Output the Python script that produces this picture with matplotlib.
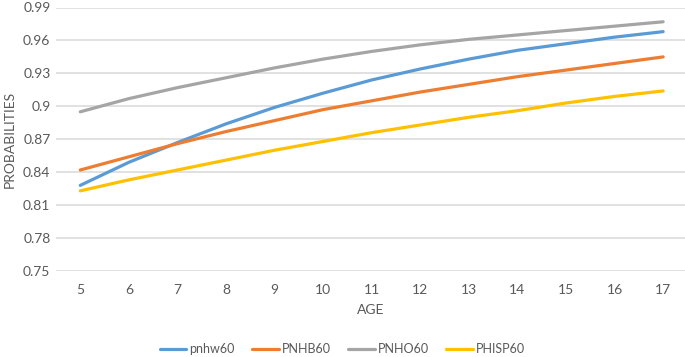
import matplotlib
matplotlib.use("Agg")
import matplotlib.pyplot as plt

# ages on the category axis
ages = [5, 6, 7, 8, 9, 10, 11, 12, 13, 14, 15, 16, 17]

# probabilities
pnhw60 = [0.828, 0.849, 0.867, 0.884, 0.899, 0.912, 0.924, 0.934, 0.943, 0.951, 0.957, 0.963, 0.968]
pnhb60 = [0.842, 0.854, 0.866, 0.877, 0.887, 0.897, 0.905, 0.913, 0.920, 0.927, 0.933, 0.939, 0.945]
pnho60 = [0.895, 0.907, 0.917, 0.926, 0.935, 0.943, 0.950, 0.956, 0.961, 0.965, 0.969, 0.973, 0.977]
phisp60 = [0.823, 0.833, 0.842, 0.851, 0.860, 0.868, 0.876, 0.883, 0.890, 0.896, 0.903, 0.909, 0.914]

series_names = ["pnhw60", "PNHB60", "PNHO60", "PHISP60"]
yticks = [0.75, 0.78, 0.81, 0.84, 0.87, 0.9, 0.93, 0.96, 0.99]
ytick_labels = ["0.75", "0.78", "0.81", "0.84", "0.87", "0.9", "0.93", "0.96", "0.99"]

colors = ["#5B9BD5", "#ED7D31", "#A5A5A5", "#FFC000"]
text_color = "#595959"
grid_color = "#D9D9D9"

plt.rcParams["font.family"] = ["Lato", "DejaVu Sans"]

W, H = 685, 357
fig = plt.figure(figsize=(W / 100, H / 100), dpi=100)
left, right = 56 / W, 1.0
top, bottom = 1 - 7.5 / H, 1 - 271 / H
ax = fig.add_axes([left, bottom, right - left, top - bottom])

# gridlines first so the lines sit on top
for yt in yticks:
    ax.axhline(yt, color=grid_color, linewidth=1.1, zorder=1)

for name, vals, c in zip(series_names, [pnhw60, pnhb60, pnho60, phisp60], colors):
    ax.plot(ages, vals, color=c, linewidth=2.3, label=name,
            solid_capstyle="round", zorder=3)

ax.set_xlim(4.5, 17.45)
ax.set_ylim(0.75, 0.99)
ax.set_xticks(ages)
ax.set_xticklabels([str(a) for a in ages], color=text_color, fontsize=10)
ax.set_yticks(yticks)
ax.set_yticklabels(ytick_labels, color=text_color, fontsize=10)
ax.tick_params(axis="both", length=0)
ax.tick_params(axis="x", pad=9)
ax.tick_params(axis="y", pad=4)

for spine in ax.spines.values():
    spine.set_visible(False)

fig.text((56 + W) / 2 / W, 1 - 310 / H, "AGE", ha="center", va="center",
         color=text_color, fontsize=10)
fig.text(10 / W, 1 - 139 / H, "PROBABILITIES", ha="center", va="center",
         rotation=90, color=text_color, fontsize=10)

fig.legend(loc="center", bbox_to_anchor=(0.5, 1 - 349 / H), ncol=4,
           frameon=False, fontsize=9, handlelength=2.1, handletextpad=0.25,
           columnspacing=1.4, labelcolor=text_color)

fig.savefig("out.png", dpi=100)
